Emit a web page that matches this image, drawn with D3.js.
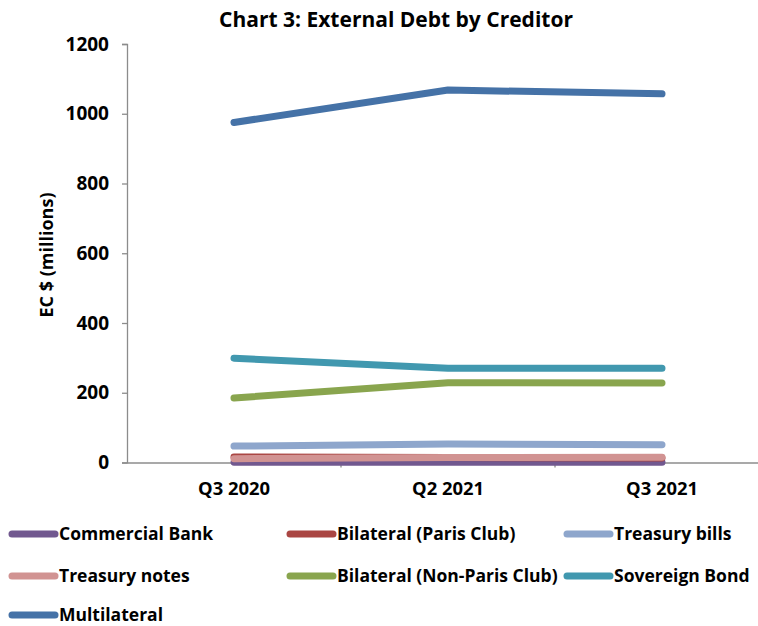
<!DOCTYPE html>
<html>
<head>
<meta charset="utf-8">
<script src="https://cdn.jsdelivr.net/npm/d3@7"></script>
<style>
  html, body { margin: 0; padding: 0; background: #fff; }
  svg { display: block; font-family: "Open Sans", "Liberation Sans", sans-serif; }
</style>
</head>
<body>
<svg id="chart" width="758" height="626"></svg>
<script>
// Quarters on the horizontal axis
const quarters = ["Q3 2020", "Q2 2021", "Q3 2021"];

// External debt by creditor, EC$ millions
const commercialBank   = [1, 0.5, 0.5];
const parisClub        = [16, 14, 13];
const treasuryBills    = [47, 53, 51];
const treasuryNotes    = [11, 14, 15];
const nonParisClub     = [185, 229, 228];
const sovereignBond    = [299, 270, 270];
const multilateral     = [975, 1068, 1057];

const seriesNames  = ["Commercial Bank", "Bilateral (Paris Club)", "Treasury bills",
                      "Treasury notes", "Bilateral (Non-Paris Club)", "Sovereign Bond", "Multilateral"];
const seriesValues = [commercialBank, parisClub, treasuryBills,
                      treasuryNotes, nonParisClub, sovereignBond, multilateral];
const seriesColors = ["#71588F", "#AA4643", "#8EA6CC", "#D19392", "#89A54E", "#4198AF", "#4572A7"];

const yTicks = [0, 200, 400, 600, 800, 1000, 1200];

const svg = d3.select("#chart");

const x = d3.scaleBand().domain(quarters).range([127, 769]);
const y = d3.scaleLinear().domain([0, 1200]).range([462.5, 44]);

// Title
svg.append("text")
  .attr("x", 396).attr("y", 27)
  .attr("text-anchor", "middle")
  .attr("font-weight", "bold").attr("font-size", 21)
  .attr("fill", "#000")
  .text("Chart 3: External Debt by Creditor");

// Y axis
const yAxis = svg.append("g")
  .attr("transform", "translate(127,0)")
  .call(d3.axisLeft(y).tickValues(yTicks).tickSize(5).tickPadding(13).tickFormat(d3.format("d")));
yAxis.select(".domain").attr("stroke", "#8c8c8c").attr("stroke-width", 1.3);
yAxis.selectAll(".tick line").attr("stroke", "#8c8c8c").attr("stroke-width", 1.3);
yAxis.selectAll(".tick text")
  .attr("font-family", "'Open Sans', sans-serif")
  .attr("font-weight", "bold").attr("font-size", 19).attr("fill", "#000");

// X axis
const xAxis = svg.append("g")
  .attr("transform", `translate(0,${y(0)})`)
  .call(d3.axisBottom(x).tickSize(0).tickPadding(19));
xAxis.select(".domain").attr("stroke", "#8c8c8c").attr("stroke-width", 1.3);
xAxis.selectAll(".tick text")
  .attr("font-family", "'Open Sans', sans-serif")
  .attr("font-weight", "bold").attr("font-size", 18.4).attr("fill", "#000");
// Category separators below the axis line
svg.append("g").selectAll("line")
  .data(quarters.slice(1))
  .join("line")
  .attr("x1", d => x(d)).attr("x2", d => x(d))
  .attr("y1", y(0)).attr("y2", y(0) + 5)
  .attr("stroke", "#8c8c8c").attr("stroke-width", 1.3);

// Series lines
const line = d3.line()
  .x((d, i) => x(quarters[i]) + x.bandwidth() / 2)
  .y(d => y(d));

svg.append("g").selectAll("path")
  .data(seriesValues)
  .join("path")
  .attr("d", d => line(d))
  .attr("fill", "none")
  .attr("stroke", (d, i) => seriesColors[i])
  .attr("stroke-width", 7)
  .attr("stroke-linecap", "round")
  .attr("stroke-linejoin", "round");

// Legend, three per row
const legendCols = [10, 288, 565];
const legendRows = [534, 576, 615];
const legend = svg.append("g").selectAll("g")
  .data(seriesNames)
  .join("g")
  .attr("transform", (d, i) => `translate(${legendCols[i % 3]},${legendRows[Math.floor(i / 3)]})`);
legend.append("line")
  .attr("x1", 2).attr("x2", 45)
  .attr("y1", 0).attr("y2", 0)
  .attr("stroke", (d, i) => seriesColors[i])
  .attr("stroke-width", 7)
  .attr("stroke-linecap", "round");
legend.append("text")
  .attr("x", 49).attr("y", 0).attr("dy", "0.35em")
  .attr("font-weight", "bold").attr("font-size", 17.5).attr("fill", "#000")
  .text(d => d);

// Y axis title
svg.append("text")
  .attr("transform", "translate(53,255) rotate(-90)")
  .attr("text-anchor", "middle")
  .attr("font-weight", "bold").attr("font-size", 18).attr("fill", "#000")
  .text("EC $ (millions)");
</script>
</body>
</html>
